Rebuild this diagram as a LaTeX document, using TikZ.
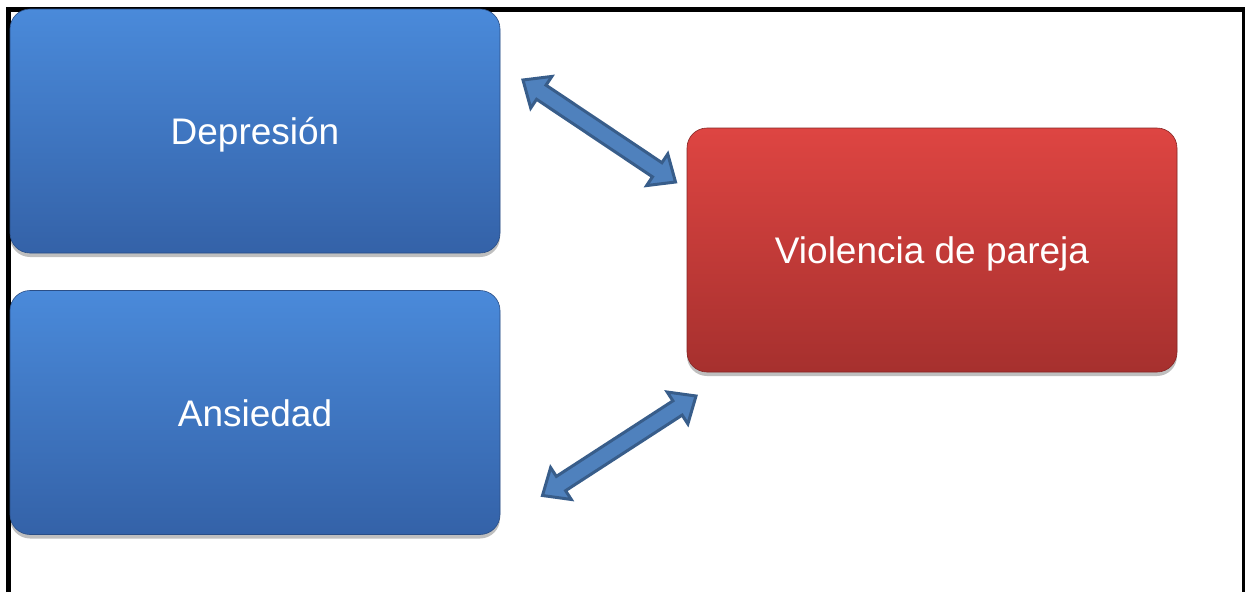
\documentclass[tikz,border=0pt]{standalone}
\usepackage{fontspec}
\setmainfont{Liberation Sans}
\usetikzlibrary{calc,shadows}
\definecolor{bluetop}{HTML}{4A8ADA}
\definecolor{bluebot}{HTML}{3462A8}
\definecolor{redtop}{HTML}{DE4542}
\definecolor{redbot}{HTML}{A6302E}
\definecolor{arrfill}{HTML}{4F81BD}
\definecolor{arrline}{HTML}{385D8A}
\tikzset{
  gbox/.style={rounded corners=20pt, minimum width=490pt, minimum height=244pt,
    inner sep=0pt, text=white, font=\fontsize{37}{44}\selectfont,
    text height=35pt, text depth=8pt,
    drop shadow={shadow xshift=0pt, shadow yshift=-4pt, opacity=0.25, fill=black}},
  bluebox/.style={gbox, top color=bluetop, bottom color=bluebot, draw=bluebot!80!black, line width=0.6pt},
  redbox/.style={gbox, top color=redtop, bottom color=redbot, draw=redbot!80!black, line width=0.6pt},
  blockarrow/.style={fill=arrfill, draw=arrline, line width=3pt, line join=miter}
}
\newcommand\dblblockarrow[2]{%
  \coordinate (ha) at ($(#1)!22pt!(#2)$);
  \coordinate (hb) at ($(#2)!22pt!(#1)$);
  \draw[blockarrow] (#1)
    -- ($(ha)!19pt!90:(#2)$) -- ($(ha)!8.5pt!90:(#2)$)
    -- ($(hb)!8.5pt!-90:(#1)$) -- ($(hb)!19pt!-90:(#1)$)
    -- (#2)
    -- ($(hb)!19pt!90:(#1)$) -- ($(hb)!8.5pt!90:(#1)$)
    -- ($(ha)!8.5pt!-90:(#2)$) -- ($(ha)!19pt!-90:(#2)$)
    -- cycle;}
\begin{document}
\begin{tikzpicture}[x=1pt,y=-1pt]
\useasboundingbox (0,0) rectangle (1245,592);
\fill[white] (0,0) rectangle (1245,592);
\draw[line width=5pt] (8.5,592) -- (8.5,9.5) -- (1244.5,9.5) -- (1244.5,592);
\node[bluebox] (dep) at (255,131) {Depresión};
\node[bluebox] (ans) at (255,412.5) {Ansiedad};
\node[redbox] (vio) at (932,250) {Violencia de pareja};
\coordinate (a1) at (523,80);
\coordinate (b1) at (675.5,182);
\coordinate (a2) at (696,396);
\coordinate (b2) at (542.5,495.5);
\dblblockarrow{a1}{b1}
\dblblockarrow{a2}{b2}
\end{tikzpicture}
\end{document}
